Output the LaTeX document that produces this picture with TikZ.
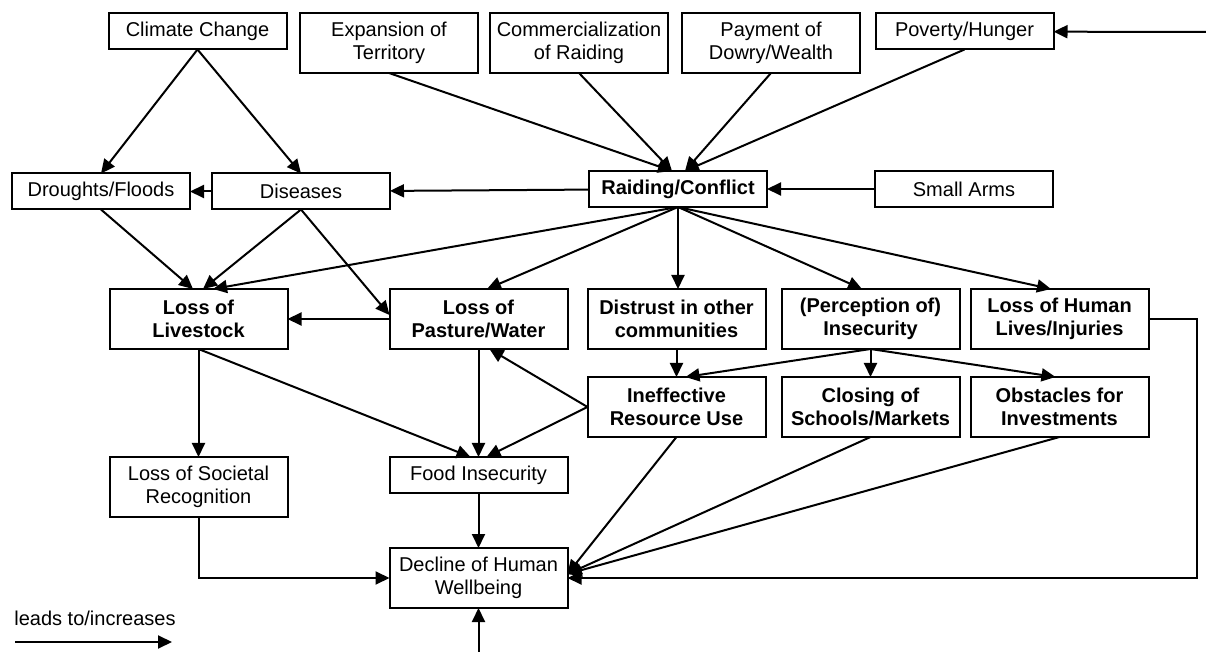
\documentclass[tikz,border=0pt]{standalone}
\usepackage{fontspec}
\setmainfont{Liberation Sans}
\usetikzlibrary{arrows.meta,positioning,calc}

\begin{document}
\begin{tikzpicture}[x=0.5pt,y=-0.5pt, node distance=14pt and 6pt, box/.style={draw,line width=1pt,outer sep=0pt,minimum width=89pt,minimum height=18pt,inner sep=2pt,align=center,font=\fontsize{10}{11.5}\selectfont}, tall/.style={box,minimum height=30pt}, hot/.style={box,font=\fontsize{10}{11.5}\selectfont\bfseries}, hottall/.style={hot,minimum height=30pt}, arr/.style={-{Triangle[length=7pt,width=6.5pt]},line width=1pt}]
\useasboundingbox (0,0) rectangle (1206,652);
% causes
\node[box] (climate) at (197.5,31.5) {Climate Change};
\node[tall] (expansion) at (389,43) {Expansion of\\Territory};
\node[tall,right=6pt of expansion] (commerce) {Commercialization\\of Raiding};
\node[tall,right=7pt of commerce] (dowry) {Payment of\\Dowry/Wealth};
\node[box] (poverty) at (964.5,31.5) {Poverty/Hunger};
\node[box] (drought) at (101,191.5) {Droughts/Floods};
\node[box,right=11pt of drought] (disease) {Diseases};
\node[hot] (raid) at (678,189) {Raiding/Conflict};
\node[box,right=54pt of raid] (arms) {Small Arms};
% effects
\node[hottall] (livestock) at (198.5,319) {Loss of\\Livestock};
\node[hottall,right=51pt of livestock] (pasture) {Loss of\\Pasture/Water};
\node[hottall,right=10pt of pasture] (distrust) {Distrust in other\\communities};
\node[hottall,right=8pt of distrust] (insecure) {(Perception of)\\Insecurity};
\node[hottall,right=5.5pt of insecure] (lives) {Loss of Human\\Lives/Injuries};
\node[hottall,below=of distrust] (ineffective) {Ineffective\\Resource Use};
\node[hottall,below=of insecure] (closing) {Closing of\\Schools/Markets};
\node[hottall,below=of lives] (obstacle) {Obstacles for\\Investments};
\node[tall,below=54pt of livestock] (societal) {Loss of Societal\\Recognition};
\node[box,below=54pt of pasture] (food) {Food Insecurity};
\node[tall,below=27.5pt of food] (decline) {Decline of Human\\Wellbeing};
% legend
\node[anchor=west,inner sep=0pt,font=\fontsize{10}{11.5}\selectfont] (legend) at (14,618) {leads to/increases};
\coordinate (lgstart) at (15,642);
\coordinate (lgend) at (172,642);
\coordinate (povin) at (1206,32);
\coordinate (wellin) at (478.5,652);
\draw[arr] (lgstart)--(lgend);
\draw[arr] (povin)--(poverty);
\draw[arr] (wellin)--(decline.south);
\draw[arr] (climate.south)--(drought.north);
\draw[arr] (climate.south)--(disease.north);
\draw[arr] (disease)--(drought);
\draw[arr] (raid)--(disease);
\draw[arr] (arms)--(raid);
\draw[arr] (expansion.south)--($(raid.north)+(-6,0)$);
\draw[arr] (commerce.south)--($(raid.north)+(-6,0)$);
\draw[arr] (dowry.south)--($(raid.north)+(7,0)$);
\draw[arr] (poverty.south)--($(raid.north)+(7,0)$);
\draw[arr] (drought.south)--($(livestock.north)+(-5.5,0)$);
\draw[arr] (disease.south)--($(livestock.north)+(4.5,0)$);
\draw[arr] (disease.south)--($(pasture.west)+(0,-4)$);
\draw[arr] (raid.south)--($(livestock.north)+(14.5,0)$);
\draw[arr] (raid.south)--($(pasture.north)+(8.5,0)$);
\draw[arr] (raid.south)--(raid.south |- distrust.north);
\draw[arr] (raid.south)--($(insecure.north)+(-8.5,0)$);
\draw[arr] (raid.south)--($(lives.north)+(-8.5,0)$);
\draw[arr] (pasture.west)--(livestock.east);
\draw[arr] (livestock.south)--(societal.north);
\draw[arr] (livestock.south)--($(food.north)+(-8,0)$);
\draw[arr] (pasture.south)--(food.north);
\draw[arr] (ineffective.west)--($(pasture.south)+(11,0)$);
\draw[arr] (ineffective.west)--($(food.north)+(8,0)$);
\draw[arr] (distrust.south)--(ineffective.north);
\draw[arr] (insecure.south)--($(ineffective.north)+(9,0)$);
\draw[arr] (insecure.south)--(closing.north);
\draw[arr] (insecure.south)--($(obstacle.north)+(-4,0)$);
\draw[arr] (food.south)--(decline.north);
\draw[arr] (societal.south) |- (decline.west);
\draw[arr] (ineffective.south)--($(decline.east)+(0,-4)$);
\draw[arr] (closing.south)--($(decline.east)+(0,-4)$);
\draw[arr] (obstacle.south)--($(decline.east)+(0,-4)$);
\draw[arr] (lives.east)--++(48,0) |- (decline.east);
\end{tikzpicture}
\end{document}
